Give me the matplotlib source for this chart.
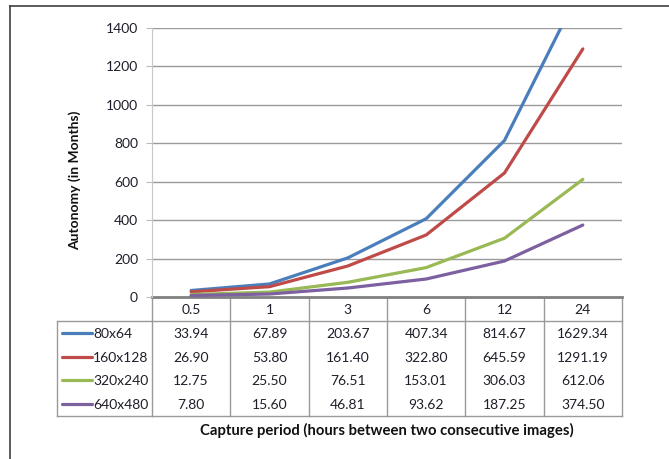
import matplotlib
matplotlib.use("Agg")
import matplotlib.pyplot as plt
from matplotlib.lines import Line2D
from matplotlib.transforms import blended_transform_factory

categories = ["0.5", "1", "3", "6", "12", "24"]
series_names = ["80x64", "160x128", "320x240", "640x480"]
s_80x64 = [33.94, 67.89, 203.67, 407.34, 814.67, 1629.34]
s_160x128 = [26.90, 53.80, 161.40, 322.80, 645.59, 1291.19]
s_320x240 = [12.75, 25.50, 76.51, 153.01, 306.03, 612.06]
s_640x480 = [7.80, 15.60, 46.81, 93.62, 187.25, 374.50]
series_values = [s_80x64, s_160x128, s_320x240, s_640x480]
yticks = [0, 200, 400, 600, 800, 1000, 1200, 1400]

colors = ["#4A7EBB", "#BE4B48", "#98B954", "#7D60A0"]
FONT = ["Lato", "DejaVu Sans"]
plt.rcParams['font.family'] = FONT
FS = 10
TXT = "#1E1E2A"

W, H = 669, 459
fig = plt.figure(figsize=(W / 100, H / 100), dpi=100)

# background overlay in pixel coords
bg = fig.add_axes([0, 0, 1, 1], zorder=0)
bg.set_xlim(0, W)
bg.set_ylim(H, 0)
bg.axis("off")

# frame border (top & left)
bg.plot([10, W], [6, 6], color="#404040", lw=1.2)
bg.plot([10, 10], [6, H], color="#404040", lw=1.2)

L, R, T, B = 152, 622, 28, 297
ax = fig.add_axes([L / W, 1 - B / H, (R - L) / W, (B - T) / H], zorder=2)
ax.patch.set_alpha(0)
x = list(range(len(categories)))
for vals, c in zip(series_values, colors):
    ax.plot(x, vals, color=c, lw=2.3, solid_capstyle="round", clip_on=True)
ax.set_xlim(-0.5, len(categories) - 0.5)
ax.set_ylim(0, 1400)
ax.set_yticks(yticks)
ax.set_yticklabels([str(v) for v in yticks], fontsize=FS, color=TXT)
ax.tick_params(axis="y", length=4, color="#BBBBBB", width=0.8, pad=6, direction="out")
ax.set_xticks([])
for v in yticks[1:]:
    ax.axhline(v, color="#9A9A9A", lw=1.0, zorder=0)
for s in ["top", "right", "bottom"]:
    ax.spines[s].set_visible(False)
ax.spines["left"].set_color("#C8C8C8")
ax.spines["left"].set_linestyle((0, (1, 1)))
ax.spines["left"].set_linewidth(0.8)
ax.axhline(0, color="#808080", lw=2.0, zorder=1, clip_on=False)

ax.set_ylabel("Autonomy (in Months)", fontsize=FS, fontweight="bold", color="#111111")
ax.yaxis.set_label_coords((81 - L) / (R - L), 1 - (180 - T) / (B - T))

# data table
tr = blended_transform_factory(ax.transData, bg.transData)
grid_c = "#9A9A9A"
header_top, header_bot = B, 321
row_h = (416 - 321) / 4
table_bottom = 416
left_edge = 57
n = len(categories)
for i in range(n + 1):
    bg.add_line(Line2D([i - 0.5, i - 0.5], [header_top, table_bottom], transform=tr, color=grid_c, lw=1.0))
bg.add_line(Line2D([-0.5, n - 0.5], [header_bot, header_bot], transform=tr, color=grid_c, lw=1.0))
bg.plot([left_edge, L], [header_bot, header_bot], color=grid_c, lw=1.0)
bg.add_line(Line2D([-0.5, n - 0.5], [table_bottom, table_bottom], transform=tr, color=grid_c, lw=1.0))
bg.plot([left_edge, L], [table_bottom, table_bottom], color=grid_c, lw=1.0)
bg.plot([left_edge, left_edge], [header_bot, table_bottom], color=grid_c, lw=1.0)

for i, cat in enumerate(categories):
    bg.text(i, (header_top + header_bot) / 2 + 1, cat, transform=tr, ha="center", va="center",
            fontsize=FS, color=TXT)
for r, (name, vals, c) in enumerate(zip(series_names, series_values, colors)):
    yc = header_bot + row_h * (r + 0.5)
    bg.plot([62, 92], [yc, yc], color=c, lw=2.3, solid_capstyle="round")
    bg.text(93, yc + 1, name, ha="left", va="center", fontsize=FS, color=TXT)
    for i, v in enumerate(vals):
        bg.text(i, yc + 1, f"{v:.2f}", transform=tr, ha="center", va="center",
                fontsize=FS, color=TXT)

fig.text(386.5 / W, 1 - 430 / H, "Capture period (hours between two consecutive images)",
         ha="center", va="center", fontsize=10.7, fontweight="bold", color="#111111")

fig.savefig("out.png", dpi=100)
